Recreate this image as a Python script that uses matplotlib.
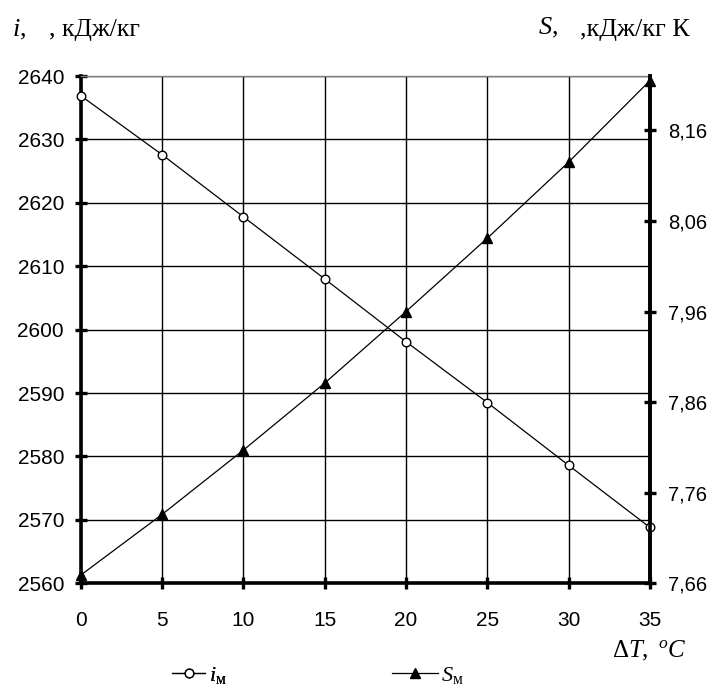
import matplotlib
matplotlib.use("Agg")
import matplotlib.pyplot as plt

dT = [0, 5, 10, 15, 20, 25, 30, 35]
i_m = [2636.9, 2627.6, 2617.8, 2608.0, 2598.1, 2588.5, 2578.6, 2568.8]
S_m = [7.669, 7.736, 7.807, 7.881, 7.960, 8.041, 8.125, 8.215]

left_ticks = [2560, 2570, 2580, 2590, 2600, 2610, 2620, 2630, 2640]
right_ticks = [7.66, 7.76, 7.86, 7.96, 8.06, 8.16]
right_labels = ["7,66", "7,76", "7,86", "7,96", "8,06", "8,16"]
x_ticks = [0, 5, 10, 15, 20, 25, 30, 35]

plt.rcParams['font.family'] = ['Liberation Sans', 'DejaVu Sans']
plt.rcParams['mathtext.fontset'] = 'custom'
plt.rcParams['mathtext.rm'] = 'Liberation Serif'
plt.rcParams['mathtext.it'] = 'Liberation Serif:italic'

W, H = 713, 687
fig = plt.figure(figsize=(W / 100, H / 100), dpi=100)
l, r, t, b = 80.7, 650, 76, 583.3
ax = fig.add_axes([l / W, 1 - b / H, (r - l) / W, (b - t) / H])

ax.set_xlim(0, 35)
ax.set_ylim(2560, 2640)
ax.set_xticks(x_ticks)
ax.set_yticks(left_ticks)
ax.grid(True, color='black', lw=1.0)
ax.set_axisbelow(True)

for side in ['left', 'bottom', 'right']:
    ax.spines[side].set_linewidth(2.6)
    ax.spines[side].set_color('black')
ax.spines['top'].set_linewidth(1.0)
ax.spines['top'].set_color('#808080')

ax.tick_params(axis='both', direction='inout', length=8, width=2.4, labelsize=15, colors='black')
ax.tick_params(axis='y', pad=8)
ax.tick_params(axis='x', pad=16)

l1, = ax.plot(dT, i_m, color='black', lw=0.9, marker='o', markersize=6.2,
              markerfacecolor='white', markeredgecolor='black', markeredgewidth=1.0,
              clip_on=False, zorder=5)

ax2 = ax.twinx()
ax2.set_ylim(7.66, 8.22)
ax2.set_yticks(right_ticks)
ax2.set_yticklabels(right_labels)
for side in ['left', 'bottom', 'top']:
    ax2.spines[side].set_visible(False)
ax2.spines['right'].set_linewidth(2.6)
ax2.tick_params(axis='y', direction='inout', length=8, width=2.4, labelsize=14.5, pad=9)

l2, = ax2.plot(dT, S_m, color='black', lw=0.9, marker='^', markersize=7.5,
               markerfacecolor='black', markeredgecolor='black',
               clip_on=False, zorder=5)

# Axis titles
fig.text(12 / W, 1 - 30 / H, r'$i,$', fontsize=19, va='center', ha='left')
fig.text(49 / W, 1 - 30 / H, ', кДж/кг', fontsize=18.5, va='center', ha='left',
         family='Liberation Serif')
fig.text(538 / W, 1 - 28 / H, r'$S,$', fontsize=19, va='center', ha='left')
fig.text(580 / W, 1 - 30 / H, ',кДж/кг К', fontsize=18.8, va='center', ha='left',
         family='Liberation Serif')
fig.text(612 / W, 1 - 651 / H, r'$\Delta T,\ ^{o}C$', fontsize=18, va='center', ha='left')

leg1 = fig.legend(handles=[l1], labels=[r'$i_{\mathrm{м}}$'], loc='center left',
                  bbox_to_anchor=(152 / W, 1 - 675 / H), frameon=False,
                  fontsize=16, handlelength=1.5, handletextpad=0.15)
leg2 = fig.legend(handles=[l2], labels=[r'$S_{\mathrm{м}}$'], loc='center left',
                  bbox_to_anchor=(372 / W, 1 - 675 / H), frameon=False,
                  fontsize=16, handlelength=2.07, handletextpad=0.15)
fig.add_artist(leg1)

fig.savefig('out.png', dpi=100)
